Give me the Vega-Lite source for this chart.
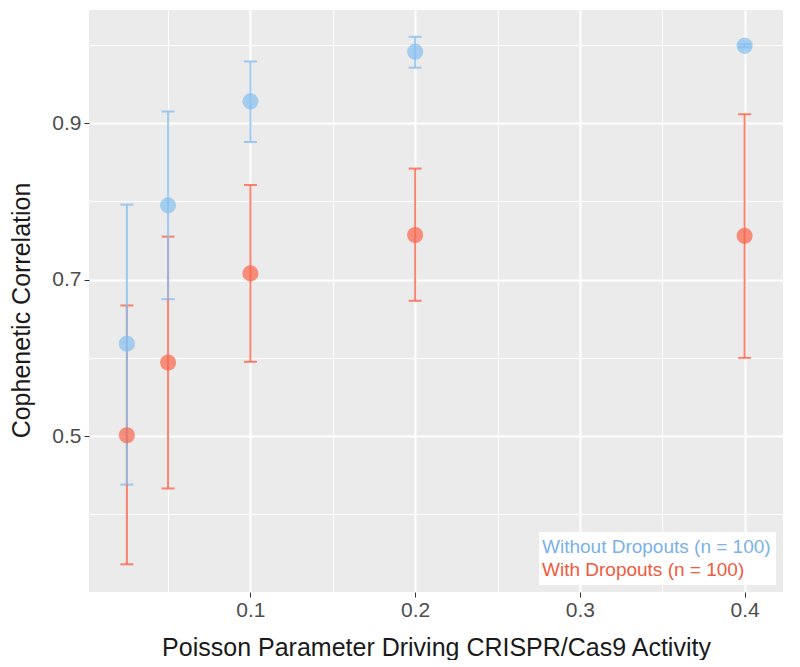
{
  "$schema": "https://vega.github.io/schema/vega-lite/v6.json",
  "width": 694,
  "height": 582,
  "padding": {"left": 9, "top": 10, "right": 13, "bottom": 0},
  "background": "white",
  "config": {
    "view": {"fill": "#EBEBEB", "stroke": null},
    "font": "Liberation Sans"
  },
  "data": {
    "values": [
      {"p": 0.025, "group": "With Dropouts (n = 100)", "mean": 0.501, "lo": 0.336, "hi": 0.667},
      {"p": 0.05, "group": "With Dropouts (n = 100)", "mean": 0.594, "lo": 0.433, "hi": 0.755},
      {"p": 0.1, "group": "With Dropouts (n = 100)", "mean": 0.708, "lo": 0.595, "hi": 0.821},
      {"p": 0.2, "group": "With Dropouts (n = 100)", "mean": 0.757, "lo": 0.673, "hi": 0.842},
      {"p": 0.4, "group": "With Dropouts (n = 100)", "mean": 0.756, "lo": 0.6, "hi": 0.9115},
      {"p": 0.025, "group": "Without Dropouts (n = 100)", "mean": 0.618, "lo": 0.438, "hi": 0.796},
      {"p": 0.05, "group": "Without Dropouts (n = 100)", "mean": 0.795, "lo": 0.675, "hi": 0.915},
      {"p": 0.1, "group": "Without Dropouts (n = 100)", "mean": 0.928, "lo": 0.876, "hi": 0.979},
      {"p": 0.2, "group": "Without Dropouts (n = 100)", "mean": 0.9915, "lo": 0.971, "hi": 1.0106},
      {"p": 0.4, "group": "Without Dropouts (n = 100)", "mean": 0.999, "lo": 0.997, "hi": 1.001}
    ]
  },
  "encoding": {
    "x": {
      "field": "p",
      "type": "quantitative",
      "scale": {"domain": [0.002, 0.4233], "nice": false, "zero": false},
      "axis": {
        "title": "Poisson Parameter Driving CRISPR/Cas9 Activity",
        "values": [0.05, 0.1, 0.15, 0.2, 0.25, 0.3, 0.35, 0.4],
        "format": ".2~f",
        "labelExpr": "(datum.value==0.1||datum.value==0.2||datum.value==0.3||datum.value==0.4) ? datum.label : ''",
        "gridColor": "white",
        "gridWidth": {"condition": {"test": "datum.value==0.1||datum.value==0.2||datum.value==0.3||datum.value==0.4", "value": 2}, "value": 1},
        "tickOpacity": {"condition": {"test": "datum.value==0.1||datum.value==0.2||datum.value==0.3||datum.value==0.4", "value": 1}, "value": 0},
        "tickColor": "#333333",
        "tickSize": 5,
        "domain": false,
        "labelFontSize": 21,
        "labelColor": "#4d4d4d",
        "labelPadding": 2,
        "titleFontSize": 25,
        "titleFontWeight": "normal",
        "titleColor": "#1a1a1a",
        "titlePadding": 15
      }
    },
    "color": {
      "field": "group",
      "type": "nominal",
      "scale": {
        "domain": ["Without Dropouts (n = 100)", "With Dropouts (n = 100)"],
        "range": ["#87bff0", "#f9664d"]
      },
      "legend": {
        "title": null,
        "orient": "bottom-right",
        "offset": 7,
        "fillColor": "white",
        "padding": 5,
        "labelFontSize": 19,
        "labelLimit": 400,
        "symbolSize": 0,
        "symbolOpacity": 0,
        "symbolStrokeWidth": 0,
        "labelOffset": -21,
        "rowPadding": 3,
        "encode": {
          "labels": {
            "update": {
              "fill": {"signal": "datum.value == 'With Dropouts (n = 100)' ? '#f25a3c' : '#79b2ea'"}
            }
          }
        }
      }
    }
  },
  "layer": [
    {
      "mark": {
        "type": "errorbar",
        "rule": {"strokeWidth": 2, "opacity": 0.8},
        "ticks": {"size": 13, "thickness": 2, "opacity": 0.8}
      },
      "encoding": {
        "y": {
          "field": "lo",
          "type": "quantitative",
          "scale": {"domain": [0.3006, 1.0448], "nice": false, "zero": false},
          "axis": {
            "title": "Cophenetic Correlation",
            "titleY": 300,
            "values": [0.4, 0.5, 0.6, 0.7, 0.8, 0.9, 1.0],
            "format": ".1f",
            "labelExpr": "(datum.value==0.5||datum.value==0.7||datum.value==0.9) ? datum.label : ''",
            "gridColor": "white",
            "gridWidth": {"condition": {"test": "datum.value==0.5||datum.value==0.7||datum.value==0.9", "value": 2}, "value": 1},
            "tickOpacity": {"condition": {"test": "datum.value==0.5||datum.value==0.7||datum.value==0.9", "value": 1}, "value": 0},
            "tickColor": "#333333",
            "tickSize": 5,
            "domain": false,
            "labelFontSize": 21,
            "labelColor": "#4d4d4d",
            "labelPadding": 3,
            "titleFontSize": 25,
            "titleFontWeight": "normal",
            "titleColor": "#1a1a1a",
            "titlePadding": 17
          }
        },
        "y2": {"field": "hi"}
      }
    },
    {
      "mark": {"type": "point", "filled": true, "size": 260, "opacity": 0.72},
      "encoding": {
        "y": {"field": "mean", "type": "quantitative"}
      }
    }
  ]
}
